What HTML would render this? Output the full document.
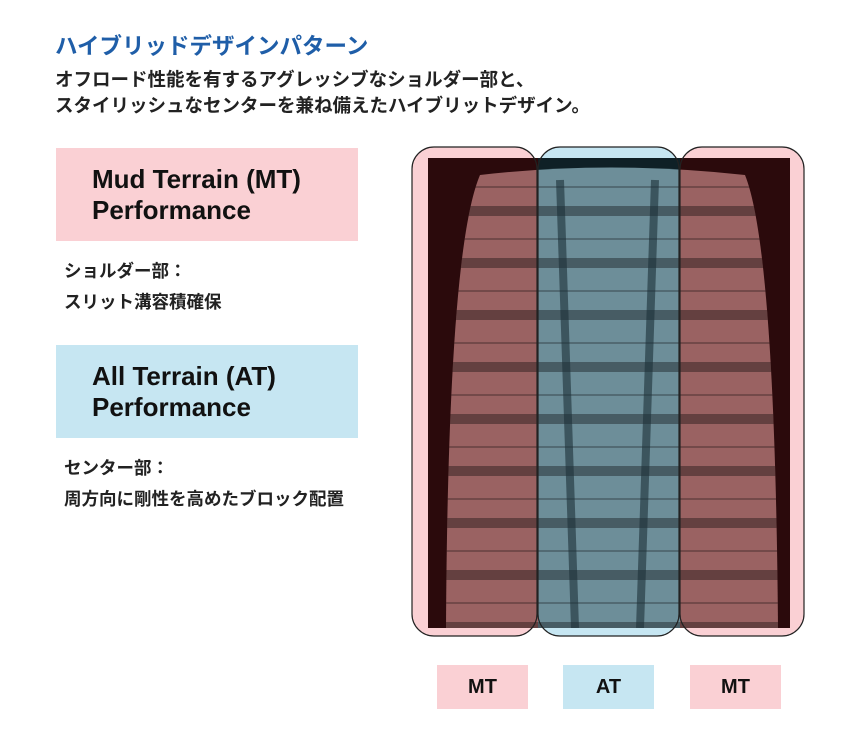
<!DOCTYPE html>
<html><head><meta charset="utf-8"><style>
body{margin:0;background:#fff;width:863px;height:734px;position:relative;overflow:hidden;font-family:"Liberation Sans","Noto Sans CJK JP",sans-serif}
.a{position:absolute}
.t{left:55px;top:29px;font-size:22.5px;font-weight:bold;color:#1f5ea8;white-space:nowrap}
.b{left:55px;font-size:18.5px;font-weight:bold;color:#222;white-space:nowrap}
.box{left:56px;width:302px;height:93px}
.bx{left:92px;font-size:26px;font-weight:bold;color:#111;line-height:31px;white-space:nowrap}
.s{left:64px;font-size:17.5px;font-weight:bold;color:#222;line-height:31px;white-space:nowrap}
.lab{top:665px;width:91px;height:44px;font-size:20px;font-weight:bold;text-align:center;line-height:44px;color:#111}
</style></head><body>
<div class="a t">ハイブリッドデザインパターン</div>
<div class="a b" style="top:66px">オフロード性能を有するアグレッシブなショルダー部と、</div>
<div class="a b" style="top:92px">スタイリッシュなセンターを兼ね備えたハイブリットデザイン。</div>
<div class="a box" style="top:148px;background:#fad0d4"></div>
<div class="a bx" style="top:164px">Mud Terrain (MT)<br>Performance</div>
<div class="a s" style="top:256px">ショルダー部：<br>スリット溝容積確保</div>
<div class="a box" style="top:345px;background:#c6e6f2"></div>
<div class="a bx" style="top:361px">All Terrain (AT)<br>Performance</div>
<div class="a s" style="top:453px">センター部：<br>周方向に剛性を高めたブロック配置</div>
<svg class="a" style="left:0;top:0" width="863" height="734">
<defs>
<clipPath id="tc"><path d="M480 175 Q610 160 745 175 Q775 250 778 628 L446 628 Q448 250 480 175Z"/></clipPath>
<pattern id="tr" width="60" height="52" patternUnits="userSpaceOnUse" y="170">
<rect width="60" height="52" fill="none"/>
<rect y="36" width="60" height="10" fill="#000" opacity=".35"/>
<rect y="16" width="60" height="2" fill="#000" opacity=".25"/>
</pattern>
</defs>
<rect x="412" y="147" width="125" height="489" rx="22" fill="#fad0d4"/>
<rect x="680" y="147" width="124" height="489" rx="22" fill="#fad0d4"/>
<rect x="538" y="147" width="141" height="489" rx="22" fill="#c6e6f2"/>
<rect x="428" y="158" width="110" height="470" fill="#2b0a0c"/>
<rect x="680" y="158" width="110" height="470" fill="#2b0a0c"/>
<rect x="538" y="158" width="142" height="470" fill="#0f2026"/>
<g clip-path="url(#tc)">
<rect x="428" y="158" width="110" height="470" fill="#9a6262"/>
<rect x="680" y="158" width="110" height="470" fill="#9a6262"/>
<rect x="538" y="158" width="142" height="470" fill="#6d8e99"/>
<rect x="428" y="158" width="362" height="470" fill="url(#tr)"/>
<path d="M560 180 L575 628 M655 180 L640 628" stroke="#1c3038" stroke-width="8" opacity=".6"/>
</g>
<rect x="412" y="147" width="125" height="489" rx="22" fill="none" stroke="#222" stroke-width="1.2"/>
<rect x="680" y="147" width="124" height="489" rx="22" fill="none" stroke="#222" stroke-width="1.2"/>
<rect x="538" y="147" width="141" height="489" rx="22" fill="none" stroke="#222" stroke-width="1.2"/>
</svg>
<div class="a lab" style="left:437px;background:#fad0d4">MT</div>
<div class="a lab" style="left:563px;background:#c6e6f2">AT</div>
<div class="a lab" style="left:690px;background:#fad0d4">MT</div>
</body></html>
